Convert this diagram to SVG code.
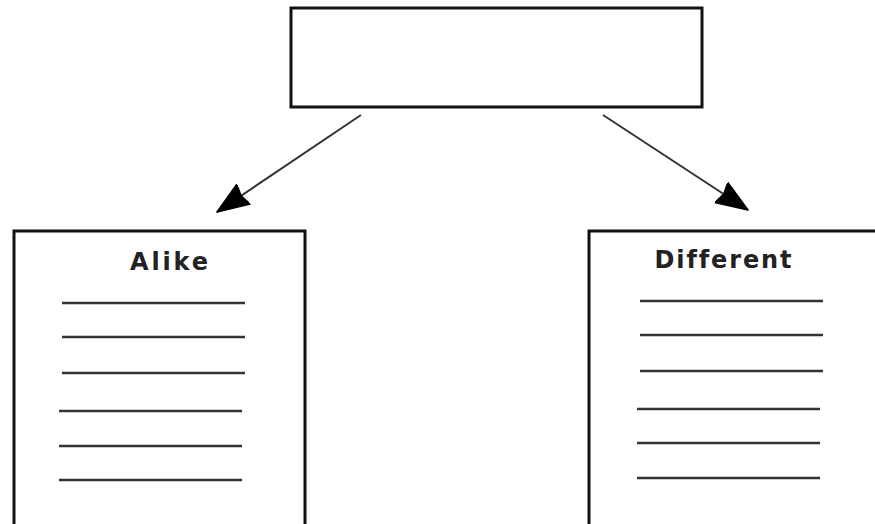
<svg xmlns="http://www.w3.org/2000/svg" width="875" height="524" viewBox="0 0 875 524">
  <style>
    .box { fill: #fff; stroke: #111; stroke-width: 3; }
    .rule { stroke: #333; stroke-width: 2.5; }
    .conn { stroke: #333; stroke-width: 2; fill: none; }
    .title { font-family: "DejaVu Sans", Verdana, sans-serif; font-weight: bold; font-size: 24px; fill: #222; font-variant-ligatures: none; font-feature-settings: "liga" 0; }
  </style>
  <defs>
    <marker id="arrow" markerUnits="userSpaceOnUse" markerWidth="34" markerHeight="28" refX="32" refY="14" orient="auto">
      <path d="M0,2 L32,14 L0,26 L3,14 Z" fill="#000" stroke="#000" stroke-width="1.5" stroke-linejoin="round"/>
    </marker>
  </defs>
  <rect width="875" height="524" fill="#fff"/>

  <g id="topic">
    <rect class="box" x="291" y="8" width="411" height="99"/>
  </g>

  <g id="alike">
    <rect class="box" x="14" y="231" width="291" height="300"/>
    <text class="title" x="169" y="270" text-anchor="middle" textLength="78" lengthAdjust="spacing">Alike</text>
    <line class="rule" x1="62" y1="303" x2="245" y2="303"/>
    <line class="rule" x1="62" y1="337" x2="245" y2="337"/>
    <line class="rule" x1="62" y1="373" x2="245" y2="373"/>
    <line class="rule" x1="59" y1="411" x2="242" y2="411"/>
    <line class="rule" x1="59" y1="446" x2="242" y2="446"/>
    <line class="rule" x1="59" y1="480" x2="242" y2="480"/>
  </g>

  <g id="different">
    <rect class="box" x="589" y="231" width="295" height="300"/>
    <text class="title" x="723" y="268" text-anchor="middle" textLength="137" lengthAdjust="spacing">Different</text>
    <line class="rule" x1="640" y1="301" x2="823" y2="301"/>
    <line class="rule" x1="640" y1="335" x2="823" y2="335"/>
    <line class="rule" x1="640" y1="371" x2="823" y2="371"/>
    <line class="rule" x1="637" y1="409" x2="820" y2="409"/>
    <line class="rule" x1="637" y1="443" x2="820" y2="443"/>
    <line class="rule" x1="637" y1="478" x2="820" y2="478"/>
  </g>

  <g id="connectors">
    <line class="conn" x1="361" y1="115" x2="217" y2="212" marker-end="url(#arrow)"/>
    <line class="conn" x1="603" y1="115" x2="748" y2="210" marker-end="url(#arrow)"/>
  </g>
</svg>
